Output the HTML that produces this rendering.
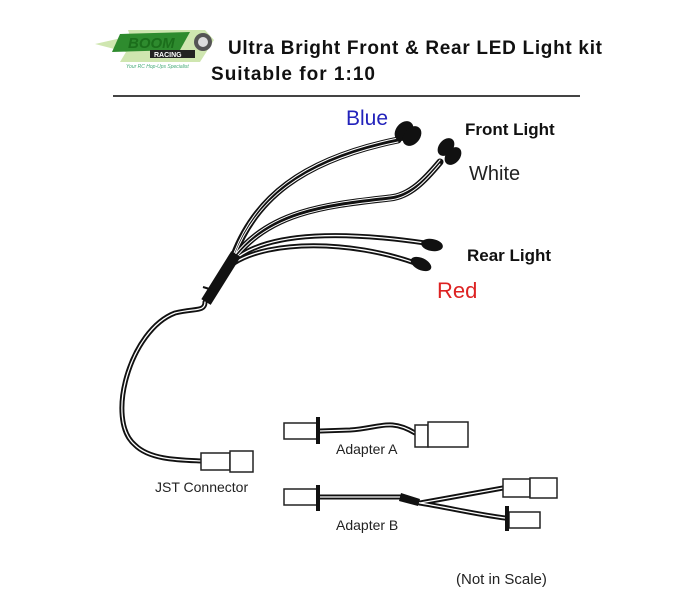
<!DOCTYPE html>
<html><head><meta charset="utf-8"><style>
html,body{margin:0;padding:0;background:#fff;}
svg{display:block;}
text{font-family:"Liberation Sans",sans-serif;}
</style></head><body>
<svg width="700" height="600" viewBox="0 0 700 600" xmlns="http://www.w3.org/2000/svg">
<rect width="700" height="600" fill="#fff"/>
<!-- logo -->
<path d="M95 44 L130 36 L128 30 L205 30 L214 40 L200 62 L120 62 L126 52 Z" fill="#cfe6b0"/>
<path d="M120 34 L190 32 L180 50 L112 52 Z" fill="#2e8b2e"/>
<text x="128" y="48" font-size="15" font-weight="bold" font-style="italic" fill="#1b6e1b">BOOM</text>
<rect x="150" y="50" width="45" height="8" fill="#222"/>
<text x="154" y="57" font-size="7" font-weight="bold" fill="#fff">RACING</text>
<circle cx="203" cy="42" r="9" fill="#555"/><circle cx="203" cy="42" r="5" fill="#ddd"/>
<text x="126" y="68" font-size="5" fill="#4a7" font-style="italic">Your RC Hop-Ups Specialist</text>
<!-- title -->
<text x="228" y="54" font-size="19" font-weight="bold" fill="#111" textLength="374">Ultra Bright Front &amp; Rear LED Light kit</text>
<text x="211" y="80" font-size="19" font-weight="bold" fill="#111" textLength="164">Suitable for 1:10</text>
<line x1="113" y1="96" x2="580" y2="96" stroke="#444" stroke-width="2"/>
<!-- wires -->
<g fill="none" stroke-linecap="round">
<g stroke="#111" stroke-width="7">
<path d="M234 255 C255 200 300 160 398 140"/>
<path d="M234 258 C270 210 330 205 390 198 C410 196 425 180 440 162"/>
</g>
<g stroke="#111" stroke-width="5">
<path d="M234 260 C270 230 350 232 425 243"/>
<path d="M234 263 C270 240 350 240 415 263"/>
<path d="M205 302 C205 312 195 308 175 313 C130 330 105 420 135 445 C150 460 180 460 202 461"/>
<path d="M320 431 L350 430 C380 428 390 418 415 433"/>
<path d="M320 497 L400 497 L420 503 L503 488"/>
<path d="M420 503 C450 508 480 515 505 518"/>
</g>
<g stroke="#fff" stroke-width="1">
<path d="M234 253 C255 198 300 158 398 138"/>
<path d="M234 257 C255 202 300 162 398 142"/>
<path d="M234 256 C270 208 330 203 390 196 C410 194 425 178 440 160"/>
<path d="M234 260 C270 212 330 207 390 200 C410 198 425 182 440 164"/>
</g>
<g stroke="#fff" stroke-width="1.3">
<path d="M234 260 C270 230 350 232 425 243"/>
<path d="M234 263 C270 240 350 240 415 263"/>
<path d="M205 302 C205 312 195 308 175 313 C130 330 105 420 135 445 C150 460 180 460 202 461"/>
<path d="M320 431 L350 430 C380 428 390 418 415 433"/>
<path d="M320 497 L400 497 L420 503 L503 488"/>
<path d="M420 503 C450 508 480 515 505 518"/>
</g>
</g>
<!-- heat shrink -->
<line x1="206" y1="302" x2="236" y2="254" stroke="#111" stroke-width="11"/>
<line x1="203" y1="287" x2="216" y2="291" stroke="#111" stroke-width="2"/>
<!-- LEDs -->
<ellipse cx="404" cy="131" rx="8" ry="11" transform="rotate(40 404 131)" fill="#111"/>
<ellipse cx="412" cy="136" rx="8" ry="11" transform="rotate(40 412 136)" fill="#111"/>
<ellipse cx="446" cy="147" rx="7" ry="10" transform="rotate(40 446 147)" fill="#111"/>
<ellipse cx="453" cy="156" rx="7" ry="10" transform="rotate(40 453 156)" fill="#111"/>
<ellipse cx="432" cy="245" rx="11" ry="6" transform="rotate(10 432 245)" fill="#111"/>
<ellipse cx="421" cy="264" rx="11" ry="6" transform="rotate(25 421 264)" fill="#111"/>
<!-- JST -->
<g fill="#fff" stroke="#222" stroke-width="1.5">
<rect x="201" y="453" width="29" height="17"/><rect x="230" y="451" width="23" height="21"/>
<rect x="284" y="423" width="33" height="16"/>
<rect x="415" y="425" width="13" height="22"/><rect x="428" y="422" width="40" height="25"/>
<rect x="284" y="489" width="33" height="16"/>
<rect x="503" y="479" width="27" height="18"/><rect x="530" y="478" width="27" height="20"/>
<rect x="509" y="512" width="31" height="16"/>
</g>
<rect x="316" y="417" width="4" height="27" fill="#111"/>
<rect x="316" y="485" width="4" height="26" fill="#111"/>
<rect x="505" y="506" width="4" height="25" fill="#111"/>
<path d="M401 493 L420 499 L418 506 L399 501 Z" fill="#111"/>
<!-- labels -->
<text x="346" y="125" font-size="21" fill="#2222bb">Blue</text>
<text x="465" y="135" font-size="17" font-weight="bold" fill="#111">Front Light</text>
<text x="469" y="180" font-size="20" fill="#222">White</text>
<text x="467" y="261" font-size="17" font-weight="bold" fill="#111">Rear Light</text>
<text x="437" y="298" font-size="22" fill="#dd2222">Red</text>
<text x="155" y="492" font-size="14" fill="#222">JST Connector</text>
<text x="336" y="454" font-size="14" fill="#222">Adapter A</text>
<text x="336" y="530" font-size="14" fill="#222">Adapter B</text>
<text x="456" y="584" font-size="15" fill="#222">(Not in Scale)</text>
</svg>
</body></html>
